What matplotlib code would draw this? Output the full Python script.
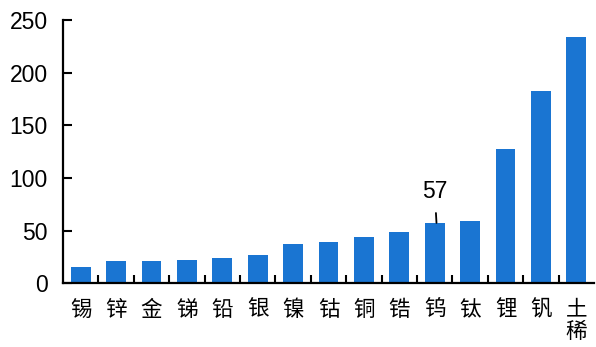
import matplotlib
matplotlib.use("Agg")
import matplotlib.pyplot as plt
import numpy as np

# metals and their values
metals = ['锡', '锌', '金', '锑', '铅', '银', '镍', '钴', '铜', '锆', '钨', '钛', '锂', '钒', '稀土']
values = [15.4, 21.1, 21.0, 22.0, 24.2, 27.4, 37.3, 39.4, 44.5, 48.7, 57.0, 59.0, 127.6, 182.5, 234.0]
label_idx = 10
label_text = '57'
yticks = [0, 50, 100, 150, 200, 250]

plt.rcParams['font.family'] = ['Liberation Sans', 'Noto Sans CJK SC', 'DejaVu Sans']

fig = plt.figure(figsize=(5.96, 3.47), dpi=100)
ax = fig.add_axes([0.1057, 0.183, 0.891, 0.7594])

x = np.arange(len(metals))
ax.bar(x, values, width=0.56, color='#1a75d2', zorder=2)

ax.set_xlim(-0.5, len(metals) - 0.5)
ax.set_ylim(0, 250)
ax.set_yticks(yticks)

# stacked upright characters, read bottom to top
stacked = ['\n'.join(reversed(m)) for m in metals]
ax.set_xticks(x)
ax.set_xticklabels(stacked, family=['Noto Sans CJK SC', 'DejaVu Sans'],
                   fontsize=15.5, linespacing=1.0, va='top')
ax.set_xticks(x[:-1] + 0.5, minor=True)
ax.tick_params(axis='x', which='major', length=0, pad=11)
ax.tick_params(axis='x', which='minor', direction='in', length=6, width=1.5)
ax.tick_params(axis='y', direction='in', length=6.5, width=1.5, labelsize=16.5, pad=11)

for side in ['top', 'right']:
    ax.spines[side].set_visible(False)
for side in ['left', 'bottom']:
    ax.spines[side].set_linewidth(1.6)

ax.annotate(label_text, xy=(x[label_idx] + 0.05, values[label_idx] + 0.5),
            xytext=(x[label_idx], 87), ha='center', va='center', fontsize=16.5,
            arrowprops=dict(arrowstyle='-', lw=1.3, color='black', shrinkA=5, shrinkB=0))

fig.savefig('out.png', dpi=100)
